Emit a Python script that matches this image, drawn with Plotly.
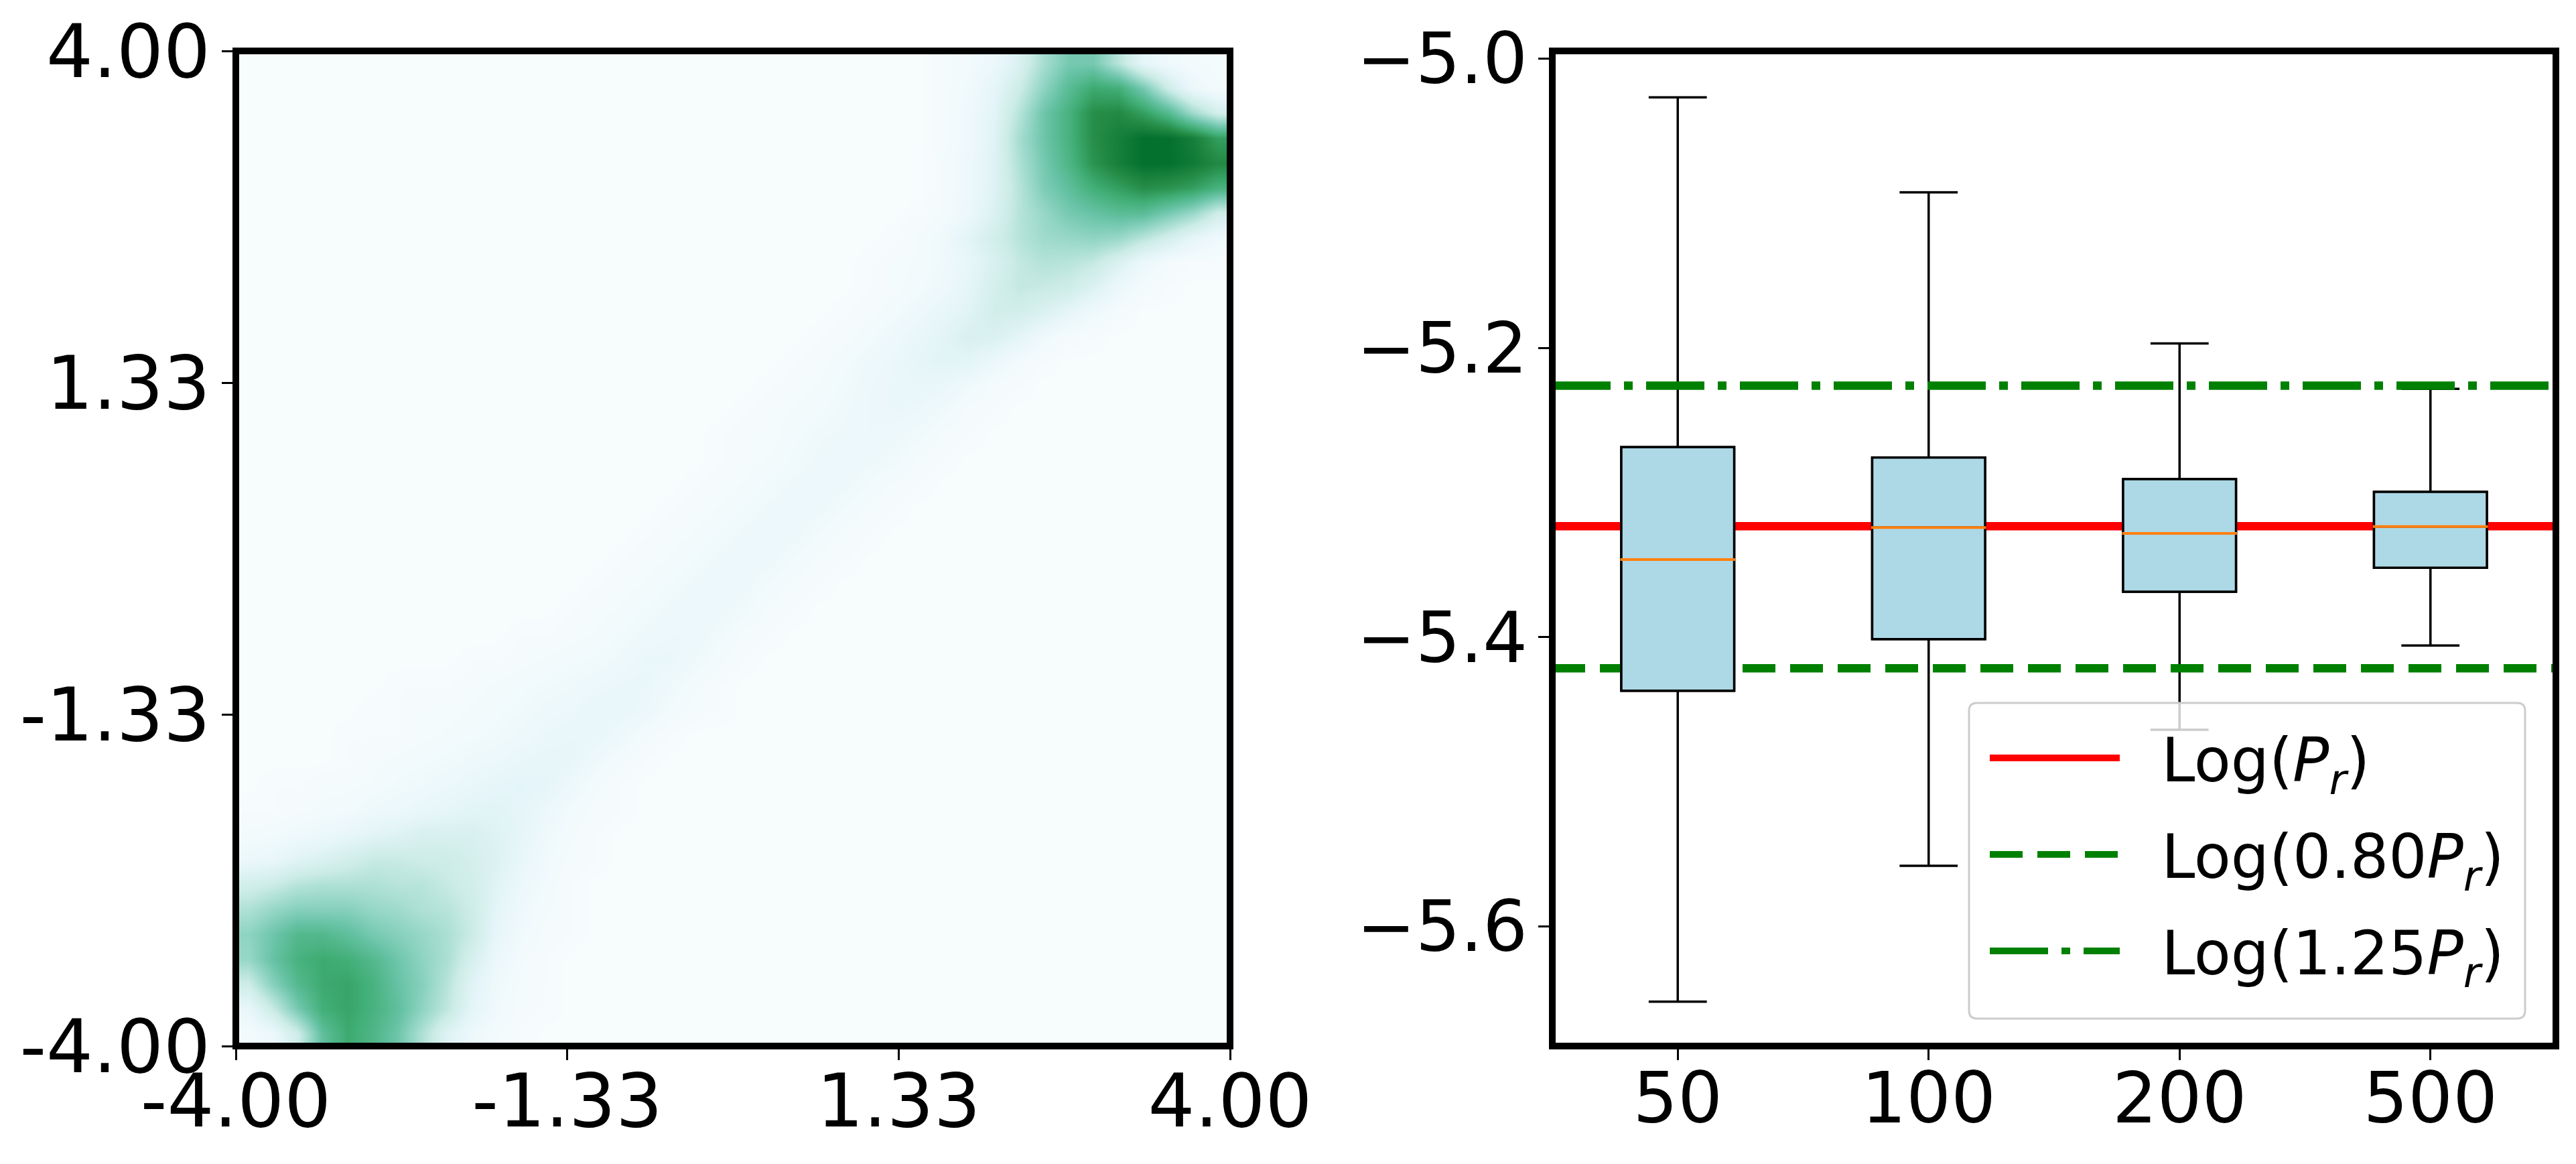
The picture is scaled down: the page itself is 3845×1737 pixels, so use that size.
import plotly.graph_objects as go

W, H = 3845, 1737

# ---------- left panel: density, top row first ----------
DENSITY_START = [28,28,28,28,28,28,27,26,25,25,24,23,22,21,20,19,19,18,17,16,15,14,13,11,9,6,5,4,4,1,0,0,0,0,0,0,0,0,0,0]
DENSITY_VALUES = [
    [2,4,8,18,34,46,46,30,12,6,3,2],
    [2,5,12,24,40,54,64,62,46,24,8,3],
    [2,6,14,30,48,60,74,76,68,56,36,22],
    [2,6,15,34,48,60,74,80,86,86,80,68],
    [3,7,16,32,46,58,72,80,86,86,82,76],
    [3,7,16,30,44,52,62,68,74,72,68,60],
    [1,3,8,18,30,38,46,50,54,54,46,38,24],
    [1,3,6,14,22,30,36,38,40,38,30,22,12,6],
    [1,2,3,6,11,19,27,31,30,27,18,8,3,1,1],
    [1,2,4,7,13,21,27,26,24,17,8,3,1],
    [1,2,4,7,11,15,22,22,18,12,6,2],
    [1,2,4,7,10,14,19,18,13,6,2,1],
    [1,2,4,7,9,12,14,13,8,3,1],
    [1,2,3,5,8,9,10,9,5,2,1],
    [1,2,3,4,6,8,9,8,5,2,1],
    [1,2,2,4,6,7,8,7,5,2,1],
    [1,2,3,5,7,8,7,5,2,1],
    [1,2,3,5,7,8,7,4,2,1],
    [1,2,3,5,7,8,7,4,2,1],
    [1,2,3,5,7,8,7,4,2,1],
    [1,2,3,5,7,8,7,4,2,1],
    [1,2,3,5,7,8,7,4,2,1],
    [1,2,3,5,7,8,7,5,2,1],
    [1,1,2,3,5,7,8,8,5,2,1],
    [1,1,2,3,4,5,7,9,9,6,3,1],
    [1,1,1,2,3,4,5,6,8,9,9,6,3,1],
    [1,1,2,2,3,4,5,7,8,10,10,8,4,2,1],
    [1,1,1,2,3,4,5,7,9,10,10,7,3,1],
    [1,2,3,4,5,7,8,10,11,11,6,3,1],
    [1,1,2,2,3,5,6,8,10,12,13,12,7,3,1],
    [1,1,2,3,4,7,8,10,12,14,14,12,8,4,2,1],
    [3,4,6,8,11,14,16,19,19,19,16,12,6,3,1],
    [8,10,15,18,22,26,26,24,24,21,17,10,5,2,1],
    [22,25,30,32,32,32,30,30,26,22,15,8,4,1],
    [32,38,42,42,42,38,36,32,30,24,13,6,3,1],
    [40,48,56,56,52,46,42,38,33,25,11,5,2,1],
    [38,50,60,64,62,56,48,40,33,20,8,3,1],
    [24,42,56,64,66,60,50,42,30,15,6,2,1],
    [10,26,46,62,66,60,52,40,28,13,5,2,1],
    [3,8,24,52,64,58,48,32,16,7,3,1],
]
LEFT_TICKVALS = [-4, -4/3, 4/3, 4]
LEFT_TICKTEXT = ["-4.00", "-1.33", "1.33", "4.00"]
BUGN = ["#f7fcfd","#e5f5f9","#ccece6","#99d8c9","#66c2a4","#41ae76","#238b45","#006d2c","#00441b"]

# ---------- right panel ----------
SIZES = ["50", "100", "200", "500"]
POSITIONS = [1, 2, 3, 4]
WHISK_HI = [-5.0267, -5.0924, -5.1969, -5.2282]
Q3       = [-5.2686, -5.2758, -5.2907, -5.2995]
MEDIAN   = [-5.3463, -5.3242, -5.3282, -5.3235]
Q1       = [-5.4370, -5.4013, -5.3685, -5.3520]
WHISK_LO = [-5.6520, -5.5580, -5.4640, -5.4057]
LOG_PR   = -5.3233
LOG_080  = -5.4215
LOG_125  = -5.2260
RIGHT_TICKVALS = [-5.0, -5.2, -5.4, -5.6]
RIGHT_TICKTEXT = ["\u22125.0", "\u22125.2", "\u22125.4", "\u22125.6"]

BOX_W = 0.45
Z = [[0]*s + v + [0]*(40 - s - len(v)) for s, v in zip(DENSITY_START, DENSITY_VALUES)]

FONT = "DejaVu Sans"
PANEL_L = (352, 1836)
PANEL_R = (2317, 3815)
PANEL_Y = (76, 1561)
def px_x(a, b): return [a / W, b / W]
def px_y(a, b): return [1 - b / H, 1 - a / H]

fig = go.Figure()
fig.add_trace(go.Heatmap(
    z=Z, x0=-3.9, dx=0.2, y0=3.9, dy=-0.2, zmin=0, zmax=100, zsmooth="best",
    colorscale=[[i / 8, c] for i, c in enumerate(BUGN)], showscale=False,
    xaxis="x", yaxis="y"))

box_line = dict(color="black", width=3.5)
fig.add_trace(go.Box(
    x=POSITIONS, q1=Q1, median=MEDIAN, q3=Q3, lowerfence=WHISK_LO, upperfence=WHISK_HI,
    width=BOX_W, whiskerwidth=0.515, line=box_line, fillcolor="#add8e6",
    boxpoints=False, showlegend=False, xaxis="x2", yaxis="y2"))

hlines = [
    ("\u00a0\u00a0Log(<i>P<sub>r</sub></i>)", LOG_PR, "red", "solid", "a"),
    ("\u00a0\u00a0Log(0.80<i>P<sub>r</sub></i>)", LOG_080, "green", "49px,22px", "b"),
    ("\u00a0\u00a0Log(1.25<i>P<sub>r</sub></i>)", LOG_125, "green", "87px,20px,13px,20px", "c"),
]
for name, val, col, dash, grp in hlines:
    fig.add_trace(go.Scatter(
        x=[0.5, 4.5], y=[val, val], mode="lines", name=name, legendgroup=grp,
        line=dict(color=col, width=12.5, dash=dash), xaxis="x2", yaxis="y2"))

fig.add_trace(go.Box(
    x=POSITIONS, q1=Q1, median=MEDIAN, q3=Q3, lowerfence=Q1, upperfence=Q3,
    width=BOX_W, whiskerwidth=0, line=box_line, fillcolor="#add8e6",
    boxpoints=False, showlegend=False, xaxis="x3", yaxis="y3"))
med_x, med_y = [], []
for p, m in zip(POSITIONS, MEDIAN):
    med_x += [p - BOX_W / 2 - 0.004, p + BOX_W / 2 + 0.004, None]
    med_y += [m, m, None]
fig.add_trace(go.Scatter(x=med_x, y=med_y, mode="lines", line=dict(color="#ff7f0e", width=4),
                         showlegend=False, xaxis="x3", yaxis="y3"))

axis = dict(showgrid=False, zeroline=False, showline=False, ticks="outside", ticklen=20,
            tickwidth=3, tickcolor="black", tickmode="array", automargin=False)
left_font = dict(family=FONT, size=110, color="black")
right_font = dict(family=FONT, size=105, color="black")
XSTAND = -33
YSTAND = -5

# rounded legend frame, translucent like the original
lx0, lx1, ly0, ly1, r = 2939, 3769, 1049, 1520, 12
def fx(p): return f"{p / W:.6f}"
def fy(p): return f"{1 - p / H:.6f}"
frame = (f"M{fx(lx0 + r)},{fy(ly0)} L{fx(lx1 - r)},{fy(ly0)} Q{fx(lx1)},{fy(ly0)} {fx(lx1)},{fy(ly0 + r)} "
         f"L{fx(lx1)},{fy(ly1 - r)} Q{fx(lx1)},{fy(ly1)} {fx(lx1 - r)},{fy(ly1)} "
         f"L{fx(lx0 + r)},{fy(ly1)} Q{fx(lx0)},{fy(ly1)} {fx(lx0)},{fy(ly1 - r)} "
         f"L{fx(lx0)},{fy(ly0 + r)} Q{fx(lx0)},{fy(ly0)} {fx(lx0 + r)},{fy(ly0)} Z")

def spine(panel):
    return dict(type="rect", xref="paper", yref="paper", layer="above",
                x0=panel[0] / W, x1=panel[1] / W,
                y0=1 - PANEL_Y[1] / H, y1=1 - PANEL_Y[0] / H,
                line=dict(color="black", width=10), fillcolor="rgba(0,0,0,0)")

fig.update_layout(
    template="none",
    width=W, height=H, margin=dict(l=0, r=0, t=0, b=0, autoexpand=False),
    paper_bgcolor="white", plot_bgcolor="white",
    font=dict(family=FONT, color="black"),
    xaxis=dict(axis, domain=px_x(*PANEL_L), range=[-4, 4], tickvals=LEFT_TICKVALS,
               ticktext=LEFT_TICKTEXT, tickfont=left_font, anchor="y", ticklabelstandoff=XSTAND),
    yaxis=dict(axis, domain=px_y(*PANEL_Y), range=[-4, 4], tickvals=LEFT_TICKVALS,
               ticktext=LEFT_TICKTEXT, tickfont=left_font, anchor="x", ticklabelstandoff=YSTAND),
    xaxis2=dict(axis, domain=px_x(*PANEL_R), range=[0.5, 4.5], tickvals=POSITIONS,
                ticktext=SIZES, tickfont=right_font, anchor="y2", ticklabelstandoff=XSTAND),
    yaxis2=dict(axis, domain=px_y(*PANEL_Y), range=[-5.6827, -4.9946], tickvals=RIGHT_TICKVALS,
                ticktext=RIGHT_TICKTEXT, tickfont=right_font, anchor="x2", ticklabelstandoff=YSTAND),
    xaxis3=dict(overlaying="x2", range=[0.5, 4.5], visible=False, anchor="y3"),
    yaxis3=dict(overlaying="y2", range=[-5.6827, -4.9946], visible=False, anchor="x3"),
    boxmode="overlay",
    shapes=[spine(PANEL_L), spine(PANEL_R),
            dict(type="path", path=frame, xref="paper", yref="paper", layer="above",
                 fillcolor="rgba(255,255,255,0.8)", line=dict(color="#cccccc", width=3))],
    legend=dict(x=2965 / W, y=1 - 1066 / H, xanchor="left", yanchor="top",
                bgcolor="rgba(0,0,0,0)", borderwidth=0, itemwidth=194, tracegroupgap=24,
                font=dict(family=FONT, size=90, color="black"), traceorder="grouped"),
)
fig.write_html("out.html", post_script="document.body.style.margin='0';",
               config=dict(displayModeBar=False))
